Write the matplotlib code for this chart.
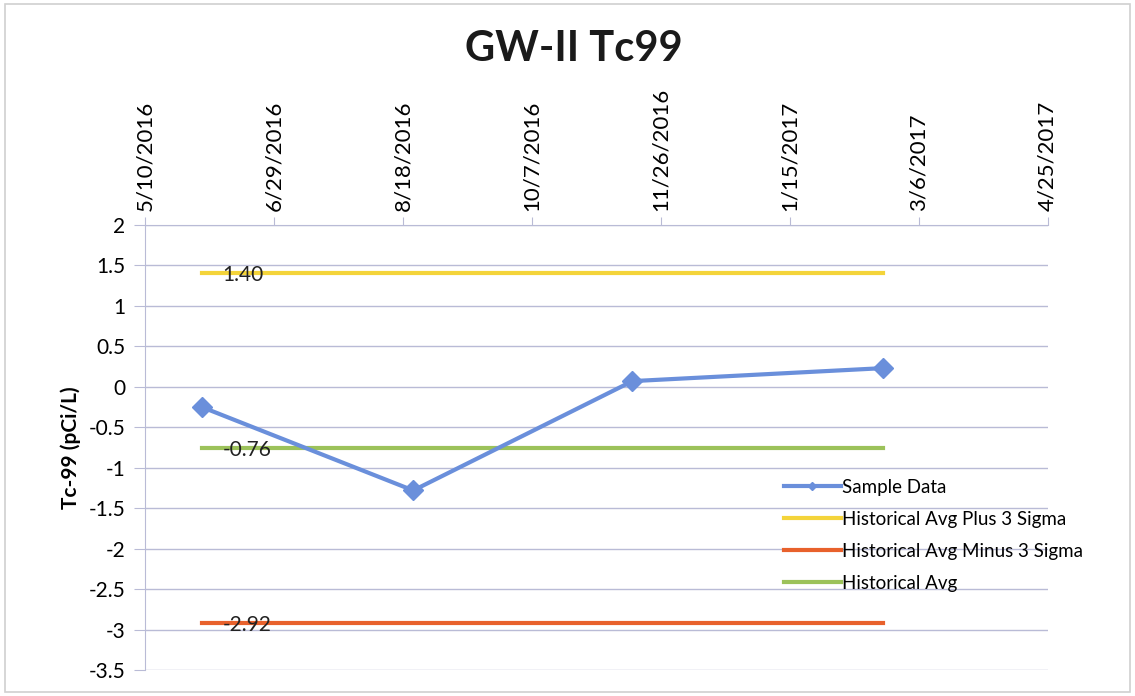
from datetime import date, timedelta
import matplotlib
matplotlib.use("Agg")
import matplotlib.pyplot as plt
import matplotlib.dates as mdates
from matplotlib.patches import Rectangle

plt.rcParams["font.family"] = ["Lato", "DejaVu Sans"]

# data
sample_dates = [date(2016, 6, 1), date(2016, 8, 22), date(2016, 11, 15), date(2017, 2, 20)]
sample_values = [-0.25, -1.28, 0.07, 0.23]

hist_plus3 = 1.40
hist_minus3 = -2.92
hist_avg = -0.76

tick_start = date(2016, 5, 10)
tick_step_days = 50
tick_labels = ["5/10/2016", "6/29/2016", "8/18/2016", "10/7/2016",
               "11/26/2016", "1/15/2017", "3/6/2017", "4/25/2017"]
y_ticks = [2, 1.5, 1, 0.5, 0, -0.5, -1, -1.5, -2, -2.5, -3, -3.5]

blue = "#6a8fdb"
yellow = "#f4d43a"
orange = "#e8612c"
green = "#9cc25a"
grid_c = "#b9bbd6"

fig = plt.figure(figsize=(11.35, 6.96), dpi=100)
ax = fig.add_axes([0.1278, 0.037, 0.7952, 0.640])

# border of the chart area
fig.patches.append(Rectangle((0.004, 0.006), 0.992, 0.988, transform=fig.transFigure,
                             fill=False, edgecolor="#d0d0d0", linewidth=1.2))

line_start, line_end = sample_dates[0], sample_dates[-1]
ax.plot(sample_dates, sample_values, color=blue, lw=3, marker="D", ms=10,
        label="Sample Data", zorder=5)
ax.plot([line_start, line_end], [hist_plus3] * 2, color=yellow, lw=3,
        label="Historical Avg Plus 3 Sigma", zorder=4)
ax.plot([line_start, line_end], [hist_minus3] * 2, color=orange, lw=3,
        label="Historical Avg Minus 3 Sigma", zorder=4)
ax.plot([line_start, line_end], [hist_avg] * 2, color=green, lw=3,
        label="Historical Avg", zorder=4)

for val in [hist_plus3, hist_avg, hist_minus3]:
    ax.annotate(f"{val:.2f}", xy=(mdates.date2num(line_start), val),
                xytext=(15, -1), textcoords="offset points",
                ha="left", va="center", fontsize=15, color="#222222", zorder=6)

ticks = [tick_start + timedelta(days=tick_step_days * i) for i in range(len(tick_labels))]
ax.set_xlim(ticks[0], ticks[-1])
ax.set_xticks(ticks)
ax.set_xticklabels(tick_labels, rotation=90, fontsize=16)
ax.xaxis.tick_top()
ax.tick_params(axis="x", direction="out", length=6, color=grid_c, pad=4)

ax.set_ylim(-3.5, 2)
ax.set_yticks(y_ticks)
ax.set_yticklabels([f"{v:g}" for v in y_ticks], fontsize=15)
ax.tick_params(axis="y", direction="out", length=8, color=grid_c, pad=6)
ax.yaxis.grid(True, color=grid_c, lw=1)
ax.set_axisbelow(True)

for side in ["right", "bottom"]:
    ax.spines[side].set_visible(False)
ax.spines["left"].set_color(grid_c)
ax.spines["top"].set_color(grid_c)

ax.set_ylabel("Tc-99 (pCi/L)", fontsize=15, fontweight="bold", labelpad=6)
fig.text(0.506, 0.93, "GW-II Tc99", ha="center", va="center",
         fontsize=30, fontweight="bold", color="#1a1a1a")

ax.legend(loc="upper left", bbox_to_anchor=(0.70, 0.447), frameon=False,
          fontsize=13.5, handlelength=3.0, handletextpad=0.1, labelspacing=0.8,
          borderaxespad=0, markerscale=0.45)

fig.savefig("out.png", dpi=100)
